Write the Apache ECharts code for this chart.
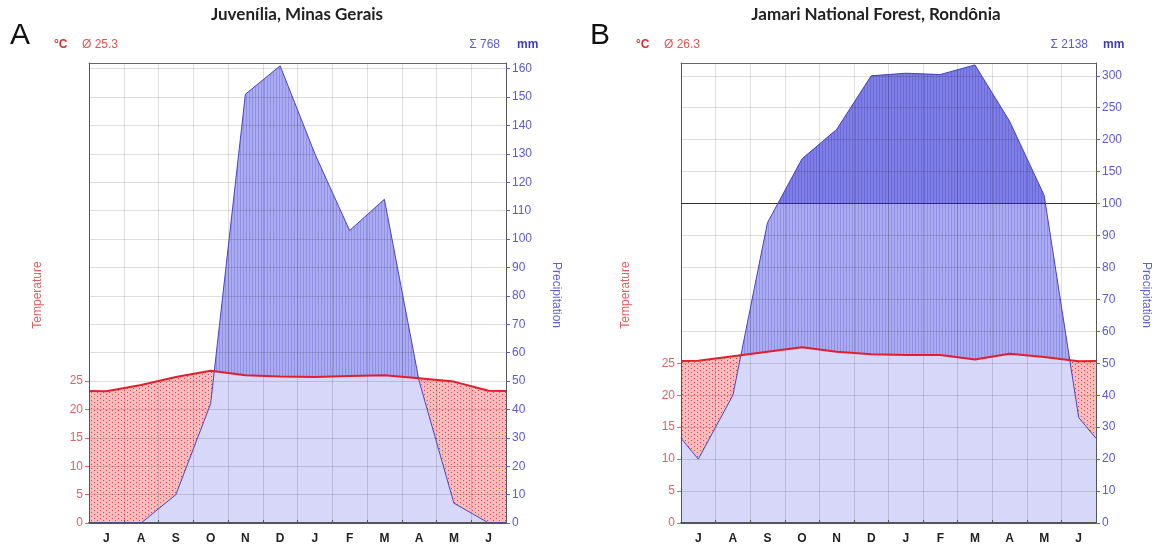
<!DOCTYPE html>
<html>
<head>
<meta charset="utf-8">
<script src="https://cdn.jsdelivr.net/npm/echarts@6/dist/echarts.min.js"></script>
<style>
html, body { margin: 0; padding: 0; background: #fff; }
#chart { width: 1158px; height: 553px; }
</style>
</head>
<body>
<div id="chart"></div>
<script>
const months = ['J', 'A', 'S', 'O', 'N', 'D', 'J', 'F', 'M', 'A', 'M', 'J']

// Juvenília (A)
const tempA = [23.2, 24.3, 25.7, 26.8, 26.0, 25.8, 25.7, 25.9, 26.0, 25.5, 24.9, 23.3]
const precA = [0, 0, 10, 42, 151, 161, 130, 103, 114, 50, 7, 0]
// Jamari (B)
const tempB = [25.4, 26.1, 26.8, 27.5, 26.8, 26.4, 26.3, 26.3, 25.6, 26.5, 26.0, 25.3]
const precB = [20, 40, 94, 170, 216, 300, 304, 302, 317, 229, 113, 33]

const tempTicks = [0, 5, 10, 15, 20, 25]
const precTicksA = [0, 10, 20, 30, 40, 50, 60, 70, 80, 90, 100, 110, 120, 130, 140, 150, 160]
const precTicksB = [0, 10, 20, 30, 40, 50, 60, 70, 80, 90, 100, 150, 200, 250, 300]

const titleA = 'Juvenília, Minas Gerais'
const titleB = 'Jamari National Forest, Rondônia'
const meanA = 'Ø 25.3'
const sumA = 'Σ 768'
const meanB = 'Ø 26.3'
const sumB = 'Σ 2138'

const RED = '#e0202c'
const BLUE = '#4646c4'
const LAVENDER = '#d7d7fa'

// above 100 mm the precipitation scale is compressed 1:5
const compress = v => (v <= 100 ? v : 100 + (v - 100) / 5)
const expand = v => (v <= 100 ? v : 100 + (v - 100) * 5)

// curve runs to both frame edges at the mean of first and last month
function curve(values, f) {
  f = f || (v => v)
  const edge = (values[0] + values[values.length - 1]) / 2
  const pts = values.map((v, i) => [i + 0.5, f(v)])
  return [[0, f(edge)]].concat(pts, [[12, f(edge)]])
}

function stripes(base, line) {
  const c = document.createElement('canvas')
  c.width = 3
  c.height = 4
  const g = c.getContext('2d')
  g.fillStyle = base
  g.fillRect(0, 0, 3, 4)
  g.fillStyle = line
  g.fillRect(0, 0, 1, 4)
  return { image: c, repeat: 'repeat' }
}

function dots(base, dot) {
  const c = document.createElement('canvas')
  c.width = 6
  c.height = 4
  const g = c.getContext('2d')
  g.fillStyle = base
  g.fillRect(0, 0, 6, 4)
  g.fillStyle = dot
  g.fillRect(1, 0, 1, 1)
  g.fillRect(4, 2, 1, 1)
  return { image: c, repeat: 'repeat' }
}

const wetFill = stripes('#ababf1', '#9090e4')
const wetTopFill = stripes('#7e7ee4', '#6a6ad8')
const dryFill = dots('#f7bdbd', '#d94848')

// pixel polygons where polyline B lies above polyline A
function lobes(A, B) {
  const out = []
  let top = []
  let bot = []
  const flush = () => {
    if (top.length > 1) out.push(top.concat(bot.reverse()))
    top = []
    bot = []
  }
  for (let i = 0; i < A.length; i++) {
    const d = A[i][1] - B[i][1]
    if (d > 0) {
      top.push(B[i])
      bot.push(A[i])
    }
    if (i < A.length - 1) {
      const d2 = A[i + 1][1] - B[i + 1][1]
      if ((d > 0) !== (d2 > 0) && d !== d2) {
        const t = d / (d - d2)
        const c = [A[i][0] + t * (A[i + 1][0] - A[i][0]), A[i][1] + t * (A[i + 1][1] - A[i][1])]
        top.push(c)
        bot.push(c)
        if (d > 0) flush()
      }
    }
  }
  flush()
  return out
}

function fillSeries(xIdx, yIdx, temp, prec, f, split) {
  return {
    type: 'custom',
    xAxisIndex: xIdx,
    yAxisIndex: yIdx,
    z: 2,
    silent: true,
    data: [0],
    renderItem(params, api) {
      const P = curve(prec, f).map(p => api.coord(p))
      // 10 mm per 5 °C
      const T = curve(temp).map(p => api.coord([p[0], p[1] * 2]))
      const y0 = api.coord([0, 0])[1]
      const base = P.map(p => [p[0], y0])
      const children = []
      const poly = (pts, fill) => children.push({ type: 'polygon', shape: { points: pts }, style: { fill } })
      lobes(base, P).forEach(s => poly(s, LAVENDER))
      lobes(T, P).forEach(s => poly(s, wetFill))
      lobes(P, T).forEach(s => poly(s, dryFill))
      if (split) {
        const y100 = api.coord([0, 100])[1]
        const L = P.map(p => [p[0], y100])
        lobes(L, P).forEach(s => poly(s, wetTopFill))
      }
      return { type: 'group', children }
    }
  }
}

const gridLine = { show: true, lineStyle: { color: 'rgba(0,0,0,0.13)', width: 1 } }
const tickFont = { fontFamily: 'Liberation Sans', fontSize: 12 }

function axesFor(gridIndex, maxMm, precLabels, precFmt) {
  const xAxis = [
    {
      gridIndex, type: 'value', position: 'top', min: 0, max: 12, interval: 1, z: 3,
      axisLine: { show: true, onZero: false, lineStyle: { color: '#666', width: 1 } },
      axisTick: { show: false }, axisLabel: { show: false }, splitLine: gridLine
    },
    {
      gridIndex, type: 'category', position: 'bottom', data: months, boundaryGap: true, z: 3,
      axisLine: { show: true, onZero: false, lineStyle: { color: '#555', width: 2 } },
      axisTick: { show: true, inside: true, length: 3, lineStyle: { color: '#555' } },
      axisLabel: { color: '#222', fontWeight: 'bold', fontSize: 12, fontFamily: 'Liberation Sans', margin: 10 },
      splitLine: { show: false }
    }
  ]
  const yAxis = [
    {
      gridIndex, type: 'value', position: 'left', min: 0, max: maxMm / 2, z: 3,
      axisLine: { show: true, onZero: false, lineStyle: { color: '#555', width: 1 } },
      axisTick: { show: true, length: 4, customValues: tempTicks, lineStyle: { color: '#e06868' } },
      axisLabel: Object.assign({ color: '#e06464', margin: 6, customValues: tempTicks }, tickFont),
      splitLine: { show: false }
    },
    {
      gridIndex, type: 'value', position: 'right', min: 0, max: maxMm, z: 3,
      axisLine: { show: true, onZero: false, lineStyle: { color: '#555', width: 1 } },
      axisTick: { show: true, length: 4, customValues: precLabels, lineStyle: { color: '#5c5cd6' } },
      axisLabel: Object.assign({ color: '#5a5ad2', margin: 6, customValues: precLabels, formatter: precFmt }, tickFont),
      splitLine: gridLine
    }
  ]
  return { xAxis, yAxis }
}

const axA = axesFor(0, 162, precTicksA, v => String(v))
const axB = axesFor(1, compress(320), precTicksB.map(compress), v => String(Math.round(expand(v))))

function label(text, x, y, fill, font, align, rotation) {
  return {
    type: 'text', x, y, rotation: rotation || 0, silent: true,
    style: { text, fill, font, align: align || 'left', verticalAlign: 'middle', textAlign: align || 'left', textVerticalAlign: 'middle' }
  }
}

const titleFont = 'bold 17px Lato'
const smallFont = '12px "Liberation Sans"'
const boldSmall = 'bold 12px "Liberation Sans"'
const axisNameFont = '12px "Liberation Sans"'

const chart = echarts.init(document.getElementById('chart'))
chart.setOption({
  animation: false,
  backgroundColor: '#fff',
  grid: [
    { left: 89, top: 63, width: 417, height: 460 },
    { left: 681, top: 63, width: 415, height: 460 }
  ],
  xAxis: axA.xAxis.concat(axB.xAxis),
  yAxis: axA.yAxis.concat(axB.yAxis),
  graphic: [
    label('A', 10, 36, '#111', '30px "Liberation Sans"'),
    label(titleA, 297, 15, '#222', titleFont, 'center'),
    label('°C', 54, 45, '#d83232', boldSmall),
    label(meanA, 82, 45, '#e05656', smallFont),
    label(sumA, 500, 45, '#5a5ad0', smallFont, 'right'),
    label('mm', 517, 45, '#3c3cc0', boldSmall),
    label('Temperature', 38, 295, '#e06060', axisNameFont, 'center', Math.PI / 2),
    label('Precipitation', 556, 295, '#6060d0', axisNameFont, 'center', -Math.PI / 2),

    label('B', 590, 36, '#111', '30px "Liberation Sans"'),
    label(titleB, 876, 15, '#222', titleFont, 'center'),
    label('°C', 636, 45, '#d83232', boldSmall),
    label(meanB, 664, 45, '#e05656', smallFont),
    label(sumB, 1088, 45, '#5a5ad0', smallFont, 'right'),
    label('mm', 1103, 45, '#3c3cc0', boldSmall),
    label('Temperature', 626, 295, '#e06060', axisNameFont, 'center', Math.PI / 2),
    label('Precipitation', 1146, 295, '#6060d0', axisNameFont, 'center', -Math.PI / 2)
  ],
  series: [
    fillSeries(0, 1, tempA, precA, null, false),
    {
      type: 'line', xAxisIndex: 0, yAxisIndex: 1, data: curve(precA), symbol: 'none', z: 5, silent: true,
      lineStyle: { color: BLUE, width: 1 }
    },
    {
      type: 'line', xAxisIndex: 0, yAxisIndex: 0, data: curve(tempA), symbol: 'none', z: 6, silent: true,
      lineStyle: { color: RED, width: 2 }
    },
    fillSeries(2, 3, tempB, precB, compress, true),
    {
      type: 'line', xAxisIndex: 2, yAxisIndex: 3, data: curve(precB, compress), symbol: 'none', z: 5, silent: true,
      lineStyle: { color: BLUE, width: 1 },
      markLine: {
        silent: true, symbol: 'none', label: { show: false },
        lineStyle: { color: '#333', width: 1, type: 'solid' },
        data: [{ yAxis: 100 }]
      }
    },
    {
      type: 'line', xAxisIndex: 2, yAxisIndex: 2, data: curve(tempB), symbol: 'none', z: 6, silent: true,
      lineStyle: { color: RED, width: 2 }
    }
  ]
})
</script>
</body>
</html>
